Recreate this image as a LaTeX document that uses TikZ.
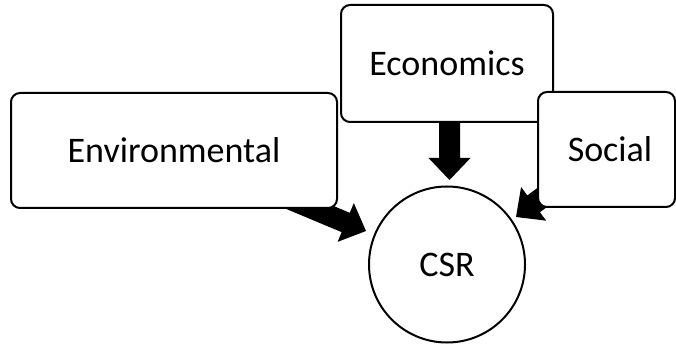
\documentclass[tikz,border=0pt]{standalone}
\usepackage{fontspec}
\setmainfont{Carlito}
\usetikzlibrary{calc}
\pgfdeclarelayer{background}
\pgfsetlayers{background,main}
\tikzset{
  box/.style={draw=black, line width=2pt, fill=white, rounded corners=9pt, inner sep=0pt,
    font=\fontsize{36}{43}\selectfont},
  csrnode/.style={draw=black, line width=2pt, fill=white, circle, inner sep=0pt, minimum size=156pt,
    font=\fontsize{36}{43}\selectfont},
  blockfill/.style={fill=black}
}
\newcommand\blockarr[2]{%
  \coordinate (ba-b) at ($(#2)!22pt!(#1)$);
  \fill[blockfill] ($(#1)!10.5pt!90:(#2)$) -- ($(ba-b)!10.5pt!90:(#2)$) -- ($(ba-b)!21pt!90:(#2)$) -- (#2)
    -- ($(ba-b)!21pt!-90:(#2)$) -- ($(ba-b)!10.5pt!-90:(#2)$) -- ($(#1)!10.5pt!-90:(#2)$) -- cycle;
}
\begin{document}
\begin{tikzpicture}[x=1pt,y=-1pt]
\useasboundingbox (0,0) rectangle (676,344);
\node[box, minimum width=326pt, minimum height=115pt] (env) at (174,150.5) {Environmental};
\node[box, minimum width=212pt, minimum height=117pt] (econ) at (447,63.5) {Economics};
\node[box, minimum width=137pt, minimum height=115pt] (soc) at (606.5,149.5) {\hspace*{7pt}Social};
\node[csrnode] (csr) at (447,264.5) {CSR};
\coordinate (envtip) at (366,231);
\coordinate (econtip) at (449.5,180);
\coordinate (econstart) at (449.5,63.5);
\coordinate (soctip) at (516,217);
\begin{pgfonlayer}{background}
\blockarr{env.center}{envtip}
\blockarr{econstart}{econtip}
\blockarr{soc.center}{soctip}
\end{pgfonlayer}
\end{tikzpicture}
\end{document}
